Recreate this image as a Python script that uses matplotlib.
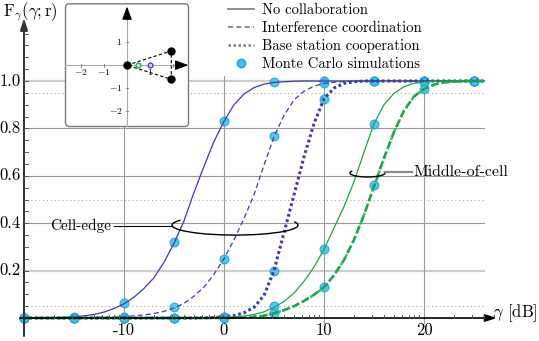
import numpy as np
import matplotlib
matplotlib.use("Agg")
import matplotlib.pyplot as plt
from matplotlib.lines import Line2D
from matplotlib.patches import Arc, FancyBboxPatch

plt.rcParams['font.family'] = ['cmr10', 'DejaVu Serif']
plt.rcParams['mathtext.fontset'] = 'cm'
plt.rcParams['axes.unicode_minus'] = False

# ---------------- data ----------------
gamma_db = list(range(-20, 27))  # -20 .. 26 dB

cell_edge_none = [0.0, 0.0005, 0.001, 0.002, 0.003, 0.005, 0.009, 0.015, 0.025, 0.04,
                  0.06, 0.088, 0.125, 0.17, 0.235, 0.315, 0.41, 0.53, 0.64, 0.745,
                  0.83, 0.9, 0.945, 0.972, 0.987, 0.994, 0.997, 0.999, 1.0, 1.0,
                  1.0, 1.0, 1.0, 1.0, 1.0, 1.0, 1.0, 1.0, 1.0, 1.0,
                  1.0, 1.0, 1.0, 1.0, 1.0, 1.0, 1.0]
cell_edge_ic = [0.0, 0.0, 0.0005, 0.0008, 0.001, 0.0015, 0.002, 0.0025, 0.003, 0.004,
                0.006, 0.009, 0.013, 0.019, 0.028, 0.042, 0.062, 0.092, 0.13, 0.185,
                0.25, 0.33, 0.42, 0.52, 0.645, 0.765, 0.855, 0.92, 0.957, 0.978,
                0.99, 0.995, 0.998, 0.999, 1.0, 1.0, 1.0, 1.0, 1.0, 1.0,
                1.0, 1.0, 1.0, 1.0, 1.0, 1.0, 1.0]
cell_edge_bsc = [0.0, 0.0, 0.0, 0.0, 0.0, 0.0, 0.0, 0.0, 0.0, 0.0,
                 0.0, 0.0, 0.0, 0.0, 0.0, 0.0, 0.0, 0.0005, 0.001, 0.002,
                 0.005, 0.01, 0.022, 0.045, 0.095, 0.2, 0.36, 0.52, 0.68, 0.82,
                 0.925, 0.97, 0.99, 0.997, 1.0, 1.0, 1.0, 1.0, 1.0, 1.0,
                 1.0, 1.0, 1.0, 1.0, 1.0, 1.0, 1.0]
middle_none = [0.0, 0.0, 0.0, 0.0, 0.0, 0.0, 0.0, 0.0, 0.0, 0.0,
               0.0, 0.0, 0.0, 0.0, 0.0, 0.0, 0.0, 0.0, 0.0, 0.0005,
               0.002, 0.004, 0.008, 0.015, 0.026, 0.045, 0.07, 0.105, 0.155, 0.215,
               0.29, 0.38, 0.47, 0.575, 0.7, 0.82, 0.9, 0.948, 0.976, 0.99,
               0.996, 0.999, 1.0, 1.0, 1.0, 1.0, 1.0]
middle_ic = [0.0, 0.0, 0.0, 0.0, 0.0, 0.0, 0.0, 0.0, 0.0, 0.0,
             0.0, 0.0, 0.0, 0.0, 0.0, 0.0, 0.0, 0.0, 0.0, 0.0,
             0.0005, 0.001, 0.002, 0.005, 0.01, 0.02, 0.033, 0.05, 0.072, 0.098,
             0.13, 0.18, 0.245, 0.33, 0.435, 0.555, 0.675, 0.785, 0.875, 0.935,
             0.966, 0.985, 0.994, 0.998, 1.0, 1.0, 1.0]
middle_bsc = middle_ic  # overlaps the interference-coordination curve

mc_db = [-20, -15, -10, -5, 0, 5, 10, 15, 20, 25]
mc_edge_none = [0, 0.003, 0.062, 0.32, 0.83, 0.995, 1, 1, 1, 1]
mc_edge_ic = [0, 0, 0.005, 0.045, 0.25, 0.77, 0.99, 1, 1, 1]
mc_edge_bsc = [0, 0, 0, 0, 0.005, 0.2, 0.925, 1, 1, 1]
mc_mid_none = [0, 0, 0, 0, 0.003, 0.05, 0.29, 0.82, 0.997, 1]
mc_mid_ic = [0, 0, 0, 0, 0.001, 0.02, 0.13, 0.56, 0.966, 1]

x_major = [-10, 0, 10, 20]
x_labels = ['-10', '0', '10', '20']
y_major = [0.2, 0.4, 0.6, 0.8, 1.0]
y_labels = ['0.2', '0.4', '0.6', '0.8', '1.0']
y_ref = [0.05, 0.5, 0.95]

legend_labels = ['No collaboration', 'Interference coordination',
                 'Base station cooperation', 'Monte Carlo simulations']

# inset geometry
bs_x = [0.0, 1.93, 1.93]
bs_y = [0.0, 0.62, -0.62]
user_x = [0.5, 1.0]
user_y = [0.0, 0.0]
inset_xticks = [-2, -1, 1]
inset_yticks = [1, -1, -2]

# ---------------- styles ----------------
BLUE = '#3b3ba6'
GREEN = '#16a84a'
MC_FACE = '#3fc3f2'
MC_EDGE = '#1aa3df'
GRID = '#9a9a9a'
LIGHTGRID = '#cdcdcd'

fig = plt.figure(figsize=(5.39, 3.41), dpi=100)
ax = fig.add_axes([0, 0, 1, 1])
ax.set_xlim(-22.4, 31.5)
ax.set_ylim(-0.0970, 1.3418)
ax.axis('off')

xmin, xmax = -20, 26

# grid
for y in y_major:
    light = y in (0.2, 1.0)
    ax.plot([xmin, xmax], [y, y], color=LIGHTGRID if light else GRID,
            lw=1.6 if light else 0.8, zorder=1)
for x in x_major:
    ax.plot([x, x], [-0.02, 1.02], color=GRID, lw=0.8, zorder=1)
for y in y_ref:
    ax.plot([-19.7, xmax], [y, y], color='#aaaaaa', lw=0.8, ls=(0, (1, 2.5)), zorder=1)

# Monte Carlo markers
for vals in [mc_edge_none, mc_edge_ic, mc_edge_bsc, mc_mid_none, mc_mid_ic]:
    ax.plot(mc_db, vals, ls='none', marker='o', ms=6.3, mfc=MC_FACE, mec=MC_EDGE,
            mew=0.8, alpha=0.9, zorder=3)

# curves
ax.plot(gamma_db, cell_edge_none, color=BLUE, lw=0.9, zorder=4)
ax.plot(gamma_db, cell_edge_ic, color=BLUE, lw=0.9, ls=(0, (4, 2.5)), zorder=4)
ax.plot(gamma_db, cell_edge_bsc, color=BLUE, lw=2.2, ls=(0, (0.9, 0.9)), zorder=4)
ax.plot(gamma_db, middle_none, color=GREEN, lw=0.9, zorder=4)
ax.plot(gamma_db, middle_ic, color=GREEN, lw=1.8, ls=(0, (3, 1.5)), zorder=4)
ax.plot(gamma_db, middle_bsc, color=GREEN, lw=1.8, ls=(0, (1, 1)), zorder=4, alpha=0.8)

# axes with arrows
ax.annotate('', xy=(27.3, 0), xytext=(-20.4, 0),
            arrowprops=dict(arrowstyle='-|>,head_length=0.7,head_width=0.22',
                            color='black', lw=1.2, shrinkA=0, shrinkB=0), zorder=5)
ax.annotate('', xy=(-20, 1.266), xytext=(-20, -0.076),
            arrowprops=dict(arrowstyle='-|>,head_length=0.7,head_width=0.22',
                            color='#333333', lw=1.4, shrinkA=0, shrinkB=0), zorder=5)

# y minor ticks
for k in range(1, 25):
    yv = k * 0.05
    ax.plot([-20, -19.6], [yv, yv], color='#555555', lw=0.7, zorder=5)
# x minor (logarithmic) ticks
for m in range(-2, 3):
    for k in range(2, 10):
        xv = 10 * np.log10(k * 10.0 ** m)
        if -20 < xv < 27:
            ax.plot([xv, xv], [0, 0.013], color='#555555', lw=0.7, zorder=5)

# tick labels
for x, lab in zip(x_major, x_labels):
    ax.text(x, -0.052, lab, ha='center', va='center', fontsize=12)
for y, lab in zip(y_major, y_labels):
    ax.text(-20.3, y, lab, ha='right', va='center', fontsize=12)

ax.text(-22.1, 1.291, r'$\mathrm{F}_{\gamma}(\gamma;\mathrm{r})$', ha='left',
        va='center', fontsize=12)
ax.text(26.9, 0.02, r'$\gamma$ [dB]', ha='left', va='center', fontsize=12)


def open_arc(center, w, h, p1, p2, **kw):
    """Arc whose ends are given as parametric ellipse angles."""
    def geo(p):
        r = np.radians(p)
        return np.degrees(np.arctan2(h * np.sin(r), w * np.cos(r)))
    return Arc(center, w, h, theta1=geo(p1), theta2=geo(p2), **kw)


# annotations
ax.add_patch(open_arc((1.1, 0.392), 12.6, 0.084, 150, 20, color='black', lw=1.0, zorder=6))
ax.plot([-11.0, -5.2], [0.388, 0.388], color='black', lw=0.8, zorder=6)
ax.text(-11.3, 0.388, 'Cell-edge', ha='right', va='center', fontsize=11)

ax.add_patch(open_arc((14.35, 0.612), 3.5, 0.034, 150, 20, color='black', lw=1.0, zorder=6))
ax.plot([16.1, 18.8], [0.616, 0.616], color='#888888', lw=1.6, zorder=6)
ax.text(18.9, 0.616, 'Middle-of-cell', ha='left', va='center', fontsize=11.5)

# legend
handles = [Line2D([], [], color='#7a7a7a', lw=1.2),
           Line2D([], [], color='#7a7a7a', lw=1.2, ls=(0, (3, 2))),
           Line2D([], [], color='#7a7a7a', lw=1.8, ls=(0, (1, 1))),
           Line2D([], [], ls='none', marker='o', ms=6, mfc=MC_FACE, mec=MC_EDGE)]
ax.legend(handles, legend_labels, loc='upper left', bbox_to_anchor=(228 / 539, 1 - 3 / 341),
          frameon=False, fontsize=10.5, handlelength=1.8, handletextpad=0.5,
          labelspacing=0.3, borderpad=0, borderaxespad=0)

# inset
ins = fig.add_axes([65 / 539, (341 - 127) / 341, 124 / 539, 123.7 / 341], zorder=10)
ins.set_xlim(-2.7, 2.7)
ins.set_ylim(-2.7, 2.7)
ins.axis('off')
box = FancyBboxPatch((0.004, 0.004), 0.992, 0.992, boxstyle='round,pad=0,rounding_size=0.03',
                     transform=ins.transAxes, fc='white', ec='#7a7a7a', lw=1.0, zorder=0,
                     clip_on=False)
ins.add_patch(box)
ins.plot([-2.7, 2.3], [0, 0], color='#aaaaaa', lw=0.8, zorder=1)
ins.plot([0, 0], [-2.7, 2.2], color='#aaaaaa', lw=0.8, zorder=1)
ins.annotate('', xy=(2.67, 0), xytext=(2.1, 0),
             arrowprops=dict(arrowstyle='-|>,head_length=0.8,head_width=0.3',
                             color='black', lw=0.8, shrinkA=0, shrinkB=0))
ins.annotate('', xy=(0, 2.56), xytext=(0, 2.0),
             arrowprops=dict(arrowstyle='-|>,head_length=0.8,head_width=0.3',
                             color='black', lw=0.8, shrinkA=0, shrinkB=0))
for t in [-2, -1, 1, 2]:
    ins.plot([t, t], [-0.06, 0.06], color='#888888', lw=0.7)
    ins.plot([-0.06, 0.06], [t, t], color='#888888', lw=0.7)
for t in inset_xticks:
    ins.text(t, -0.32, r'$%d$' % t, ha='center', va='center', fontsize=7)
for t in inset_yticks:
    ins.text(-0.2, t, r'$%d$' % t, ha='right', va='center', fontsize=7)
tri_x = bs_x + [bs_x[0]]
tri_y = bs_y + [bs_y[0]]
ins.plot(tri_x, tri_y, color='black', lw=0.8, ls=(0, (3, 2)), zorder=3)
ins.plot(bs_x, bs_y, ls='none', marker='o', ms=5, color='black', zorder=4)
ins.plot(user_x[:1], user_y[:1], ls='none', marker='o', ms=3.5, mfc='#bfe8cc', mec=GREEN,
         mew=0.9, zorder=5)
ins.plot(user_x[1:], user_y[1:], ls='none', marker='o', ms=3.5, mfc='#c8c8ff', mec='#3b3bd6',
         mew=0.9, zorder=5)

fig.savefig('out.png', dpi=100)
